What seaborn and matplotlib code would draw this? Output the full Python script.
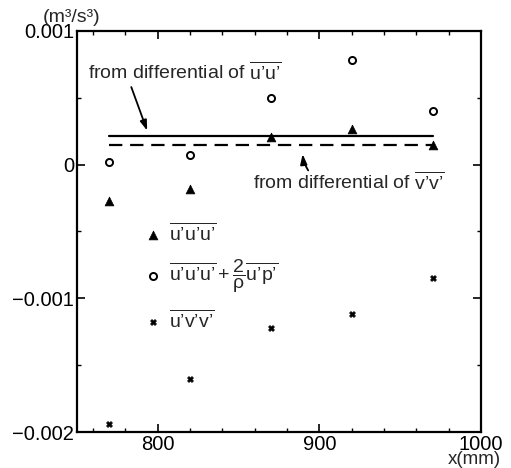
import numpy as np
import pandas as pd
import matplotlib
matplotlib.use("Agg")
import matplotlib.pyplot as plt
from matplotlib.ticker import MultipleLocator, FixedLocator, FixedFormatter
import seaborn as sns

# Streamwise stations (mm)
x_mm = [770, 820, 870, 920, 970]

# Triple correlations (m^3/s^3)
uuu = [-0.00027, -0.00018, 0.00021, 0.00027, 0.00015]
uuu_plus_up = [0.00002, 0.00007, 0.00050, 0.00078, 0.00040]
uvv = [-0.00194, -0.00160, -0.00122, -0.00112, -0.00085]

# Levels derived from the differentials of u'u' and v'v'
level_uu = 0.000215
level_vv = 0.00015
level_x = [770, 970]

Q = "\u2019"
lab_uuu = r"$\overline{u%su%su%s}$" % (Q, Q, Q)
lab_up = r"$\overline{u%su%su%s}+\dfrac{2}{\rho}\overline{u%sp%s}$" % (Q, Q, Q, Q, Q)
lab_uvv = r"$\overline{u%sv%sv%s}$" % (Q, Q, Q)
txt_uu = r"from differential of $\overline{u%su%s}$" % (Q, Q)
txt_vv = r"from differential of $\overline{v%sv%s}$" % (Q, Q)

sns.set_style("ticks")
plt.rcParams["font.family"] = ["Liberation Sans", "DejaVu Sans"]
plt.rcParams["mathtext.fontset"] = "custom"
plt.rcParams["mathtext.rm"] = "Liberation Sans"
plt.rcParams["mathtext.it"] = "Liberation Sans"
plt.rcParams["mathtext.bf"] = "Liberation Sans:bold"

df = pd.DataFrame({
    "x": x_mm * 3,
    "value": uuu + uuu_plus_up + uvv,
    "series": [lab_uuu] * 5 + [lab_up] * 5 + [lab_uvv] * 5,
})

fig = plt.figure(figsize=(5.11, 4.68), dpi=100)
ax = fig.add_axes([0.1507, 0.0769, 0.7906, 0.8569])

lines_df = pd.DataFrame({
    "x": level_x * 2,
    "value": [level_uu] * 2 + [level_vv] * 2,
    "kind": ["uu"] * 2 + ["vv"] * 2,
})
sns.lineplot(data=lines_df[lines_df.kind == "uu"], x="x", y="value", color="black",
             lw=1.6, ax=ax, legend=False)
sns.lineplot(data=lines_df[lines_df.kind == "vv"], x="x", y="value", color="black",
             lw=1.6, ax=ax, legend=False)
ax.lines[-1].set_dashes([6, 3.5])

marker_map = {lab_uuu: "^", lab_up: "o", lab_uvv: "X"}
sizes = {lab_uuu: 40, lab_up: 26, lab_uvv: 18}
for lab in [lab_uuu, lab_up, lab_uvv]:
    sub = df[df.series == lab]
    if lab == lab_up:
        sns.scatterplot(data=sub, x="x", y="value", marker="o", s=sizes[lab],
                        facecolor="white", edgecolor="black", linewidth=1.4,
                        label=lab, ax=ax)
    else:
        sns.scatterplot(data=sub, x="x", y="value", marker=marker_map[lab],
                        s=sizes[lab], color="black", edgecolor="black",
                        linewidth=0.5, label=lab, ax=ax)

ax.set_xlim(750, 1000)
ax.set_ylim(-0.002, 0.001)
ax.set_xlabel("")
ax.set_ylabel("")

ax.xaxis.set_major_locator(FixedLocator([800, 900, 1000]))
ax.xaxis.set_major_formatter(FixedFormatter(["800", "900", "1000"]))
ax.xaxis.set_minor_locator(MultipleLocator(20))
ax.yaxis.set_major_locator(FixedLocator([-0.002, -0.001, 0, 0.001]))
ax.yaxis.set_major_formatter(FixedFormatter(["\u22120.002", "\u22120.001", "0", "0.001"]))
ax.yaxis.set_minor_locator(MultipleLocator(0.0005))
ax.tick_params(which="both", direction="in", top=True, right=True, labelsize=14.5,
               color="black", labelcolor="black")
ax.tick_params(which="major", length=6, width=1.2, pad=2)
ax.tick_params(which="minor", length=3, width=1.0)
for s in ax.spines.values():
    s.set_linewidth(1.6)
    s.set_color("black")
    s.set_visible(True)

fig.text(0.98, 0.0, "x(mm)", fontsize=13.5, ha="right", va="bottom")
fig.text(0.084, 0.963, "(m\u00b3/s\u00b3)", fontsize=14, ha="left", va="center")

ax.text(756.8, 0.00069, txt_uu, fontsize=14, ha="left", va="center")
ax.annotate("", xy=(794, 0.000235), xytext=(783, 0.0006),
            arrowprops=dict(arrowstyle="-|>,head_length=0.6,head_width=0.2",
                            color="black", lw=1.3))
ax.text(859, -0.00013, txt_vv, fontsize=14, ha="left", va="center")
ax.annotate("", xy=(889.5, 0.0001), xytext=(894, -0.00006),
            arrowprops=dict(arrowstyle="-|>,head_length=0.6,head_width=0.2",
                            color="black", lw=1.3,
                            connectionstyle="arc3,rad=-0.15"))

leg = ax.legend(loc="upper left", bbox_to_anchor=(0.14, 0.548), frameon=False,
                fontsize=14, handletextpad=0.3, labelspacing=0.7,
                handlelength=1.0, borderpad=0)

fig.savefig("out.png", dpi=100)
